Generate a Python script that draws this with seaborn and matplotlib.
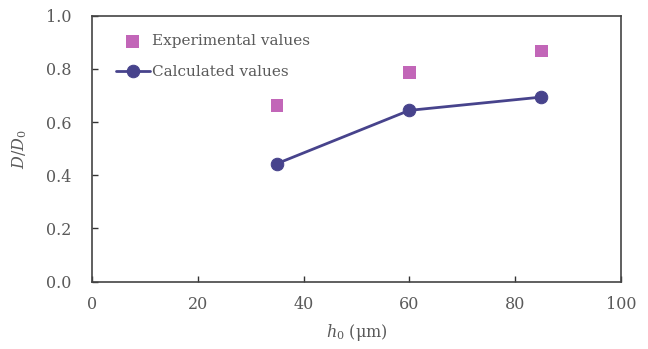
import matplotlib
matplotlib.use("Agg")
import matplotlib.pyplot as plt
import seaborn as sns
import pandas as pd

# Film thickness h0 (um) and normalized diameter D/D0
h0 = [35, 60, 85]
experimental = [0.663, 0.786, 0.867]
calculated = [0.444, 0.644, 0.694]

x_ticks = [0, 20, 40, 60, 80, 100]
y_ticks = [0.0, 0.2, 0.4, 0.6, 0.8, 1.0]

exp_color = "#C266B8"
calc_color = "#47438C"
text_color = "#5a5a5a"

sns.set_theme(style="white")
plt.rcParams["font.family"] = ["DejaVu Serif"]
plt.rcParams["mathtext.fontset"] = "dejavuserif"

df_exp = pd.DataFrame({"h0": h0, "ratio": experimental})
df_calc = pd.DataFrame({"h0": h0, "ratio": calculated})

fig = plt.figure(figsize=(6.48, 3.49), dpi=100)
ax = fig.add_axes([0.142, 0.193, 0.816, 0.762])

sns.scatterplot(data=df_exp, x="h0", y="ratio", ax=ax, marker="s", s=85,
                color=exp_color, edgecolor="none", label="Experimental values",
                zorder=3)
sns.lineplot(data=df_calc, x="h0", y="ratio", ax=ax, marker="o", markersize=9,
             color=calc_color, linewidth=2.0, markeredgecolor=calc_color,
             label="Calculated values", zorder=4)

ax.set_xlim(0, 100)
ax.set_ylim(0, 1.0)
ax.set_xticks(x_ticks)
ax.set_yticks(y_ticks)
ax.set_xticklabels([str(v) for v in x_ticks])
ax.set_yticklabels([f"{v:.1f}" for v in y_ticks])

ax.tick_params(direction="in", length=4, width=1, colors="#333333",
               labelcolor=text_color, labelsize=11.5)
ax.tick_params(axis="y", pad=15)
ax.tick_params(axis="x", pad=10)
ax.tick_params(top=False, right=False, left=True, bottom=True)
for sp in ax.spines.values():
    sp.set_visible(True)
    sp.set_color("#444444")
    sp.set_linewidth(1.2)

ax.set_xlabel(r"$h_0$ (μm)", fontsize=11.5, color=text_color, labelpad=7)
ax.set_ylabel(r"$D/D_0$", fontsize=11.5, color=text_color, labelpad=12)

leg = ax.legend(loc="upper left", frameon=False, fontsize=11,
                handlelength=2.2, handletextpad=0.15, labelspacing=1.1,
                borderaxespad=0.3, bbox_to_anchor=(0.025, 0.97))
for t in leg.get_texts():
    t.set_color(text_color)

fig.savefig("out.png", dpi=100)
